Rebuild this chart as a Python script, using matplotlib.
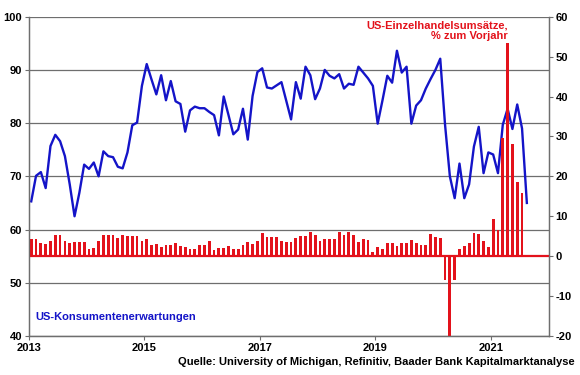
"""Michigan consumer expectations vs. US retail sales, monthly 2013-2021."""
import matplotlib
matplotlib.use("Agg")
import matplotlib.pyplot as plt
import numpy as np

plt.rcParams.update({'font.family': 'Liberation Sans', 'font.size': 8,
                     'font.weight': 'bold', 'axes.unicode_minus': False})

start_year = 2013

# US-Konsumentenerwartungen (index), Jan 2013 - Aug 2021
expectations = [
    65.3, 70.1, 70.8, 67.8, 75.7, 77.8, 76.6, 73.8, 68.5, 62.5, 66.9, 72.2,
    71.4, 72.6, 70.0, 74.7, 73.8, 73.6, 71.8, 71.5, 74.5, 79.6, 80.1, 87.0,
    91.1, 88.2, 85.4, 89.0, 84.3, 87.9, 84.1, 83.6, 78.4, 82.4, 83.1, 82.8,
    82.8, 82.1, 81.5, 77.7, 85.0, 81.5, 77.9, 78.8, 82.7, 76.9, 85.1, 89.6,
    90.3, 86.7, 86.5, 87.1, 87.7, 84.2, 80.7, 87.7, 84.6, 90.6, 89.0, 84.5,
    86.5, 90.0, 88.9, 88.4, 89.2, 86.5, 87.4, 87.2, 90.6, 89.5, 88.4, 87.0,
    79.9, 84.3, 88.9, 87.6, 93.6, 89.5, 90.6, 79.9, 83.3, 84.3, 86.5, 88.3,
    90.0, 92.1, 79.7, 70.0, 65.9, 72.4, 65.9, 68.5, 75.6, 79.3, 70.6, 74.5,
    74.1, 70.6, 79.7, 82.7, 78.9, 83.5, 79.0, 65.0,
]

# US-Einzelhandelsumsaetze, % zum Vorjahr, Jan 2013 - Jul 2021
retail_yoy = [
    4.3, 4.3, 3.2, 3.1, 3.9, 5.2, 5.4, 3.9, 3.2, 3.5, 3.5, 3.6,
    1.8, 2.1, 3.9, 5.4, 5.25, 5.2, 4.6, 5.4, 5.0, 5.0, 5.0, 3.8,
    4.3, 2.7, 3.1, 2.25, 2.75, 2.75, 3.3, 2.6, 2.4, 1.75, 1.7, 2.75,
    2.75, 3.75, 1.5, 2.1, 2.1, 2.5, 1.7, 1.8, 2.9, 3.6, 3.1, 3.9,
    5.8, 4.75, 4.75, 4.8, 3.9, 3.6, 3.6, 4.5, 5.0, 5.0, 6.1, 5.4,
    3.75, 4.4, 4.4, 4.4, 6.1, 5.25, 6.1, 5.25, 3.5, 4.3, 4.0, 1.0,
    2.2, 1.7, 3.3, 3.3, 2.5, 3.2, 3.2, 4.0, 3.4, 2.9, 2.9, 5.5,
    4.7, 4.6, -6.0, -20.0, -6.0, 1.9, 2.6, 3.2, 5.9, 5.5, 3.75, 2.2,
    9.25, 6.5, 29.5, 53.3, 28.2, 18.6, 15.8,
]

year_ticks = [2013, 2015, 2017, 2019, 2021]

# monthly points sit in the middle of each month
x_exp = start_year + (np.arange(len(expectations)) + 0.5) / 12
x_ret = start_year + (np.arange(len(retail_yoy)) + 0.5) / 12

blue = '#1414c8'
red = '#e3121b'
grid = '#6e6e6e'

fig = plt.figure(figsize=(5.8, 3.75), dpi=100)
ax = fig.add_axes([0.0497, 0.104, 0.896, 0.8515])
ax2 = ax.twinx()

ax.set_xlim(2013, 2022)
ax.set_ylim(40, 100)
ax.set_yticks(range(40, 101, 10))
ax.set_xticks(year_ticks)
ax.yaxis.grid(True, color=grid, lw=0.9)
ax.set_axisbelow(True)
ax.plot(x_exp, expectations, color=blue, lw=1.7)

ax2.set_ylim(-20, 60)
ax2.set_yticks(range(-20, 61, 10))
ax2.bar(x_ret, retail_yoy, width=0.58 / 12, color=red)
ax2.axhline(0, color=red, lw=1.6)

for a in (ax, ax2):
    for side in ('left', 'right', 'bottom'):
        a.spines[side].set_color(grid)
        a.spines[side].set_linewidth(0.9)
    a.spines['top'].set_visible(False)
    a.tick_params(length=3, width=0.8, color=grid, pad=2, labelsize=8)

ax.text(2013.12, 43.5, 'US-Konsumentenerwartungen', color=blue,
        fontsize=8, ha='left', va='center')
ax2.text(2021.3, 56.5, 'US-Einzelhandelsumsätze,\n% zum Vorjahr', color=red,
         fontsize=8, ha='right', va='center', linespacing=1.15)
fig.text(0.99, 0.035, 'Quelle: University of Michigan, Refinitiv, '
         'Baader Bank Kapitalmarktanalyse', fontsize=8, ha='right',
         va='center')

fig.savefig('out.png', dpi=100)
